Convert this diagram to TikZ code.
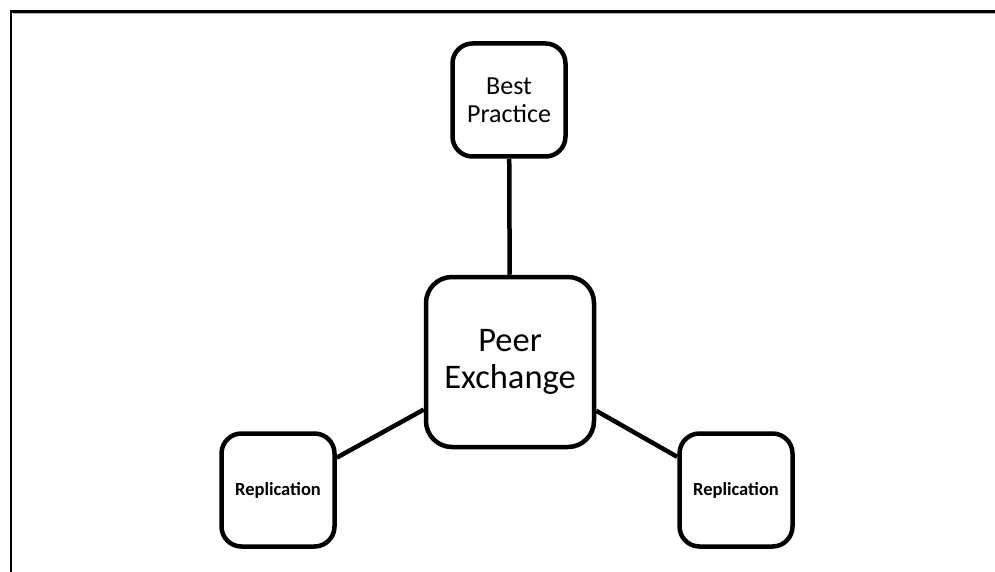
\documentclass[tikz,border=0pt]{standalone}
\usepackage{fontspec}
\setmainfont{Carlito}
\usepackage{tikz}
\usetikzlibrary{positioning}

\tikzset{
  hub/.style={draw, line width=4.5pt, rounded corners=26pt, align=center,
    minimum width=168pt, minimum height=170pt, inner sep=0pt},
  leaf/.style={draw, line width=4.5pt, rounded corners=20pt, align=center,
    minimum size=113pt, inner sep=0pt},
  link/.style={line width=4.5pt}
}

\begin{document}
\begin{tikzpicture}[x=1pt, y=-1pt]
    \useasboundingbox (0,0) rectangle (995,572);
    % page frame
    \draw[gray!60, line width=1pt] (13,14) -- (995,14);
    \draw[line width=2.5pt] (11,572) -- (11,11.5) -- (995,11.5);

    \node[hub, font=\fontsize{34.5}{37}\selectfont] (peer) at (510,362) {Peer\\Exchange};
    \node[leaf, font=\fontsize{26}{28}\selectfont] (best) at (509,100) {Best\\Practice};
    \node[leaf, font=\bfseries\fontsize{18.5}{21}\selectfont] (repl) at (278,490) {Replication};
    \node[leaf, font=\bfseries\fontsize{18.5}{21}\selectfont] (repr) at (736,490) {Replication};

    \draw[link] (peer) -- (best);
    \draw[link] (peer) -- (repl);
    \draw[link] (peer) -- (repr);
  \end{tikzpicture}
\end{document}
